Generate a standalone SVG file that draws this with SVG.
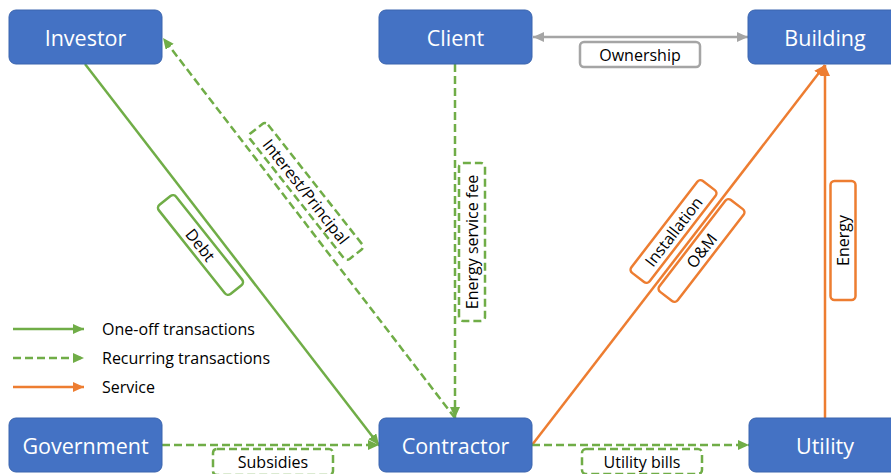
<svg xmlns="http://www.w3.org/2000/svg" width="891" height="474" viewBox="0 0 891 474">
<style>
.node rect{fill:#4472C4;stroke:#3A64AE;stroke-width:1}
.node text{fill:#fff;font-family:"Open Sans","Noto Sans",sans-serif;font-size:21.5px;text-anchor:middle;dominant-baseline:central}
.lbl{fill:#000;font-family:"Open Sans","Noto Sans",sans-serif;font-size:16px;text-anchor:middle;dominant-baseline:central}
.g{stroke:#70AD47;stroke-width:2.5;fill:none}
.gd{stroke:#70AD47;stroke-width:2.5;fill:none;stroke-dasharray:8 4}
.o{stroke:#ED7D31;stroke-width:2.5;fill:none}
.gr{stroke:#A5A5A5;stroke-width:2.5;fill:none}
.box{fill:#fff;stroke-width:2.5}
</style>
<defs>
<marker id="ag" markerUnits="userSpaceOnUse" markerWidth="11" markerHeight="10" refX="11" refY="5" orient="auto-start-reverse"><path d="M0,0 L11,5 L0,10 z" fill="#70AD47"/></marker>
<marker id="ao" markerUnits="userSpaceOnUse" markerWidth="11" markerHeight="10" refX="11" refY="5" orient="auto-start-reverse"><path d="M0,0 L11,5 L0,10 z" fill="#ED7D31"/></marker>
<marker id="agr" markerUnits="userSpaceOnUse" markerWidth="11" markerHeight="10" refX="11" refY="5" orient="auto-start-reverse"><path d="M0,0 L11,5 L0,10 z" fill="#A5A5A5"/></marker>
</defs>
<g id="connectors">
<line class="g" x1="85" y1="64" x2="379" y2="445" marker-end="url(#ag)"/>
<line class="gd" x1="455" y1="418" x2="163" y2="38" marker-end="url(#ag)"/>
<line class="gd" x1="455" y1="64" x2="455" y2="418" marker-end="url(#ag)"/>
<line class="gr" x1="533" y1="37" x2="748" y2="37" marker-start="url(#agr)" marker-end="url(#agr)"/>
<line class="o" x1="532" y1="445" x2="825" y2="65" marker-end="url(#ao)"/>
<line class="o" x1="825" y1="418" x2="825" y2="65" marker-end="url(#ao)"/>
<line class="gd" x1="162" y1="445" x2="379" y2="445" marker-end="url(#ag)"/>
<line class="gd" x1="532" y1="445" x2="749" y2="445" marker-end="url(#ag)"/>
</g>
<g id="labels">
<g id="lbl-ownership"><rect class="box" x="580" y="42" width="120" height="25" rx="4" stroke="#A5A5A5"/><text class="lbl" x="640" y="54.5">Ownership</text></g>
<g id="lbl-subsidies"><rect class="box" x="213" y="449" width="120" height="26" rx="4" stroke="#70AD47" stroke-dasharray="8 4"/><text class="lbl" x="273" y="462">Subsidies</text></g>
<g id="lbl-utilitybills"><rect class="box" x="582" y="449" width="120" height="25" rx="4" stroke="#70AD47" stroke-dasharray="8 4"/><text class="lbl" x="642" y="461.5">Utility bills</text></g>
<g id="lbl-esf" transform="translate(472,242) rotate(-90)"><rect class="box" x="-79" y="-13" width="158" height="26" rx="4" stroke="#70AD47" stroke-dasharray="8 4"/><text class="lbl" x="0" y="0">Energy service fee</text></g>
<g id="lbl-energy" transform="translate(843,240.5) rotate(-90)"><rect class="box" x="-59.5" y="-12.5" width="119" height="25" rx="4" stroke="#ED7D31"/><text class="lbl" x="0" y="0">Energy</text></g>
<g id="lbl-installation" transform="translate(673.5,231.5) rotate(-52.4)"><rect class="box" x="-58" y="-11.5" width="116" height="23" rx="4" stroke="#ED7D31"/><text class="lbl" x="0" y="0">Installation</text></g>
<g id="lbl-om" transform="translate(701.5,250.5) rotate(-52.4)"><rect class="box" x="-58" y="-11.5" width="116" height="23" rx="4" stroke="#ED7D31"/><text class="lbl" x="0" y="0">O&amp;M</text></g>
<g id="lbl-debt" transform="translate(200.5,245) rotate(51.5)"><rect class="box" x="-57" y="-11" width="114" height="22" rx="4" stroke="#70AD47"/><text class="lbl" x="0" y="0">Debt</text></g>
<g id="lbl-interest" transform="translate(306,191.5) rotate(51.8)"><rect class="box" x="-80" y="-11.5" width="160" height="23" rx="4" stroke="#70AD47" stroke-dasharray="8 4"/><text class="lbl" x="0" y="0">Interest/Principal</text></g>
</g>
<g id="investor" class="node"><rect x="9" y="10" width="153" height="54" rx="7"/><text x="85.5" y="37">Investor</text></g>
<g id="client" class="node"><rect x="379" y="10" width="153" height="54" rx="7"/><text x="455.5" y="37">Client</text></g>
<g id="building" class="node"><rect x="748" y="10" width="154" height="54" rx="7"/><text x="825" y="37">Building</text></g>
<g id="government" class="node"><rect x="9" y="418" width="153" height="54" rx="7"/><text x="85.5" y="445">Government</text></g>
<g id="contractor" class="node"><rect x="379" y="418" width="153" height="54" rx="7"/><text x="455.5" y="445">Contractor</text></g>
<g id="utility" class="node"><rect x="749" y="418" width="153" height="54" rx="7"/><text x="825" y="445">Utility</text></g>
<g id="legend">
<line class="g" x1="13" y1="329" x2="84" y2="329" marker-end="url(#ag)"/>
<line class="gd" x1="13" y1="358" x2="84" y2="358" marker-end="url(#ag)"/>
<line class="o" x1="13" y1="387" x2="84" y2="387" marker-end="url(#ao)"/>
<text class="lbl" x="102" y="329" style="text-anchor:start">One-off transactions</text>
<text class="lbl" x="102" y="358" style="text-anchor:start">Recurring transactions</text>
<text class="lbl" x="102" y="387" style="text-anchor:start">Service</text>
</g>
</svg>
